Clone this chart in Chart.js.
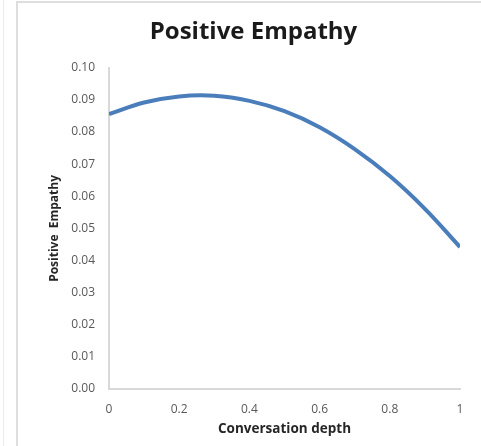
<!DOCTYPE html>
<html>
<head>
<meta charset="utf-8">
<script src="https://cdn.jsdelivr.net/npm/chart.js@4/dist/chart.umd.min.js"></script>
<style>
  html, body { margin: 0; padding: 0; background: #fff; }
  #wrap { position: relative; width: 481px; height: 446px; overflow: hidden; }
  #edge { position: absolute; left: 3px; top: 0; width: 0; height: 446px; border-left: 1px solid #ececec; }
  #frame { position: absolute; left: 16px; top: 1px; width: 480px; height: 460px;
           border-top: 2px solid #dedede; border-left: 2px solid #dedede; }
  canvas { position: absolute; left: 0; top: 0; }
</style>
</head>
<body>
<div id="wrap">
  <div id="edge"></div>
  <div id="frame"></div>
  <canvas id="chart" width="481" height="446"></canvas>
</div>
<script>
'use strict';

// Conversation depth (x) and positive empathy (y)
var depth = [0, 0.1, 0.2, 0.3, 0.4, 0.5, 0.6, 0.7, 0.8, 0.9, 1.0];
var empathy = [0.0856, 0.0892, 0.0911, 0.0913, 0.0897, 0.0865, 0.0815, 0.0747, 0.0663, 0.0561, 0.0442];

var xTicks = [0, 0.2, 0.4, 0.6, 0.8, 1];
var yTicks = [0, 0.01, 0.02, 0.03, 0.04, 0.05, 0.06, 0.07, 0.08, 0.09, 0.10];

var points = depth.map(function(d, i) {
  return { x: d, y: empathy[i] };
});

var ctx = document.getElementById('chart').getContext('2d');
new Chart(ctx, {
  type: 'line',
  data: {
    datasets: [{
      label: 'Positive Empathy',
      data: points,
      borderColor: '#4a7ebb',
      borderWidth: 4,
      pointRadius: 0,
      fill: false,
      tension: 0.4
    }]
  },
  options: {
    responsive: false,
    animation: false,
    layout: { padding: { left: 47, right: 21, top: 0, bottom: 9 } },
    plugins: {
      legend: { display: false },
      tooltip: { enabled: false },
      title: {
        display: true,
        text: 'Positive Empathy',
        color: '#1a1a1a',
        font: { family: 'Open Sans', size: 24, weight: 'bold' },
        padding: { top: 18, bottom: 21 }
      }
    },
    scales: {
      x: {
        type: 'linear',
        min: 0,
        max: 1,
        grid: { display: false },
        border: { display: true, color: '#d9d9d9', width: 2 },
        afterBuildTicks: function(scale) {
          scale.ticks = xTicks.map(function(v) { return { value: v }; });
        },
        afterFit: function(scale) { scale.height = 48; },
        ticks: {
          color: '#595959',
          font: { family: 'Open Sans', size: 12 },
          padding: 5,
          maxRotation: 0,
          callback: function(v) { return String(Math.round(v * 10) / 10); }
        },
        title: {
          display: true,
          text: 'Conversation depth',
          color: '#262626',
          font: { family: 'Open Sans', size: 13.5, weight: 'bold' },
          padding: { top: 0, bottom: 0 }
        }
      },
      y: {
        min: 0,
        max: 0.1,
        grid: { display: false },
        border: { display: true, color: '#d9d9d9', width: 2 },
        afterBuildTicks: function(scale) {
          scale.ticks = yTicks.map(function(v) { return { value: v }; });
        },
        afterFit: function(scale) { scale.width = 62; },
        ticks: {
          color: '#595959',
          font: { family: 'Open Sans', size: 12 },
          padding: 6,
          callback: function(v) { return v.toFixed(2); }
        },
        title: {
          display: true,
          text: 'Positive  Empathy',
          color: '#262626',
          font: { family: 'Open Sans', size: 12, weight: 'bold' },
          padding: 0
        }
      }
    }
  }
});
</script>
</body>
</html>
